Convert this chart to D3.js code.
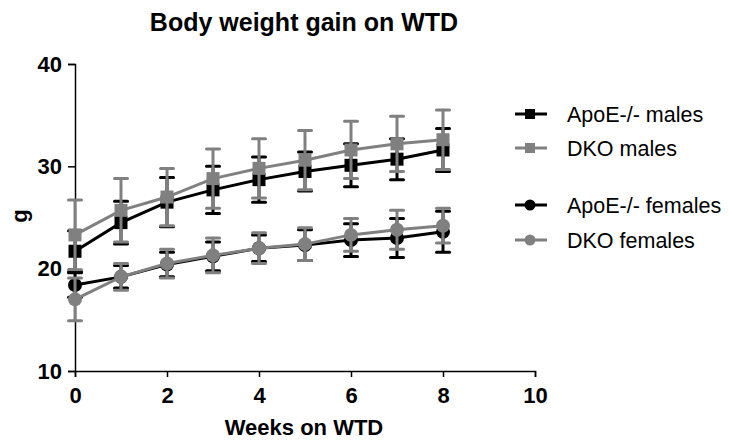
<!DOCTYPE html>
<html>
<head>
<meta charset="utf-8">
<script src="https://cdn.jsdelivr.net/npm/d3@7"></script>
<style>
body { margin: 0; background: #fff; }
svg text { font-family: "Liberation Sans", Arial, sans-serif; }
</style>
</head>
<body>
<div id="canvas"></div>
<script>
// data (mean and SD, grams)
var weeks = [0, 1, 2, 3, 4, 5, 6, 7, 8];
var apoeMales      = [21.7, 24.5, 26.5, 27.7, 28.7, 29.5, 30.1, 30.7, 31.6];
var apoeMalesSd    = [2.0, 2.1, 2.4, 2.3, 2.2, 1.9, 2.1, 2.0, 2.1];
var dkoMales       = [23.3, 25.7, 27.0, 28.8, 29.8, 30.6, 31.6, 32.2, 32.6];
var dkoMalesSd     = [3.4, 3.1, 2.8, 2.9, 2.9, 2.9, 2.8, 2.7, 2.9];
var apoeFemales    = [18.4, 19.2, 20.4, 21.2, 22.0, 22.3, 22.8, 23.0, 23.6];
var apoeFemalesSd  = [1.2, 1.1, 1.2, 1.4, 1.3, 1.5, 1.6, 1.9, 2.0];
var dkoFemales     = [17.0, 19.2, 20.5, 21.3, 22.0, 22.4, 23.3, 23.8, 24.2];
var dkoFemalesSd   = [2.1, 1.3, 1.4, 1.7, 1.5, 1.6, 1.6, 1.9, 1.7];
var seriesNames = ["ApoE-/- males", "DKO males", "ApoE-/- females", "DKO females"];
var xTicks = [0, 2, 4, 6, 8, 10];
var yTicks = [10, 20, 30, 40];

var series = [
  {name: seriesNames[0], mean: apoeMales, sd: apoeMalesSd, color: "#000", shape: "square"},
  {name: seriesNames[1], mean: dkoMales, sd: dkoMalesSd, color: "#808080", shape: "square"},
  {name: seriesNames[2], mean: apoeFemales, sd: apoeFemalesSd, color: "#000", shape: "circle"},
  {name: seriesNames[3], mean: dkoFemales, sd: dkoFemalesSd, color: "#808080", shape: "circle"}
];

var w = 729, h = 441;
var paper = d3.select("#canvas").append("svg")
  .attr("width", w)
  .attr("height", h);

var x = d3.scaleLinear().domain([0, 10]).range([75, 535]);
var y = d3.scaleLinear().domain([10, 40]).range([371, 64]);

// title
paper.append("text")
  .attr("x", 304).attr("y", 31)
  .attr("text-anchor", "middle")
  .style("font-size", "25px").style("font-weight", "bold")
  .text("Body weight gain on WTD");

// axes
var xAxis = paper.append("g")
  .attr("transform", "translate(0,371)")
  .call(d3.axisBottom(x).tickValues(xTicks).tickSize(6).tickPadding(10));
var yAxis = paper.append("g")
  .attr("transform", "translate(75,0)")
  .call(d3.axisLeft(y).tickValues(yTicks).tickSize(7).tickPadding(6));
[xAxis, yAxis].forEach(function(a) {
  a.select(".domain").attr("stroke", "#000").attr("stroke-width", 1.5);
  a.selectAll(".tick line").attr("stroke", "#000").attr("stroke-width", 1.5);
  a.selectAll(".tick text")
    .attr("fill", "#000")
    .style("font-size", "22px").style("font-weight", "bold")
    .style("font-family", "'Liberation Sans', Arial, sans-serif");
});

paper.append("text")
  .attr("x", 304).attr("y", 435)
  .attr("text-anchor", "middle")
  .style("font-size", "22px").style("font-weight", "bold")
  .text("Weeks on WTD");

paper.append("text")
  .attr("transform", "translate(27,216) rotate(-90)")
  .attr("text-anchor", "middle")
  .style("font-size", "22px").style("font-weight", "bold")
  .text("g");

function drawMarker(g, shape, color, cx, cy, size) {
  if (shape === "square") {
    g.append("rect")
      .attr("x", cx - size / 2).attr("y", cy - size / 2)
      .attr("width", size).attr("height", size)
      .attr("fill", color);
  } else {
    g.append("circle")
      .attr("cx", cx).attr("cy", cy).attr("r", size / 2 + 0.5)
      .attr("fill", color);
  }
}

var line = d3.line()
  .x(function(d) { return x(d.wk); })
  .y(function(d) { return y(d.v); });

series.forEach(function(s) {
  var pts = weeks.map(function(wk, i) { return {wk: wk, v: s.mean[i], sd: s.sd[i]}; });
  var g = paper.append("g");

  // error bars
  pts.forEach(function(p) {
    var px = x(p.wk);
    g.append("line")
      .attr("x1", px).attr("x2", px)
      .attr("y1", y(p.v + p.sd)).attr("y2", y(p.v - p.sd))
      .attr("stroke", s.color).attr("stroke-width", 3);
    [p.v + p.sd, p.v - p.sd].forEach(function(e) {
      g.append("line")
        .attr("x1", px - 6.5).attr("x2", px + 6.5)
        .attr("y1", y(e)).attr("y2", y(e))
        .attr("stroke", s.color).attr("stroke-width", 3)
        .attr("stroke-linecap", "round");
    });
  });

  g.append("path")
    .datum(pts)
    .attr("d", line)
    .attr("fill", "none")
    .attr("stroke", s.color)
    .attr("stroke-width", 3);

  pts.forEach(function(p) {
    drawMarker(g, s.shape, s.color, x(p.wk), y(p.v), 13);
  });
});

// legend
var legendY = [114, 148, 205, 240];
series.forEach(function(s, i) {
  var g = paper.append("g");
  g.append("line")
    .attr("x1", 515).attr("x2", 547)
    .attr("y1", legendY[i]).attr("y2", legendY[i])
    .attr("stroke", s.color).attr("stroke-width", 3);
  drawMarker(g, s.shape, s.color, 530, legendY[i], 10);
  g.append("text")
    .attr("x", 567).attr("y", legendY[i])
    .attr("dy", "0.36em")
    .style("font-size", "21.5px")
    .text(s.name);
});
</script>
</body>
</html>
